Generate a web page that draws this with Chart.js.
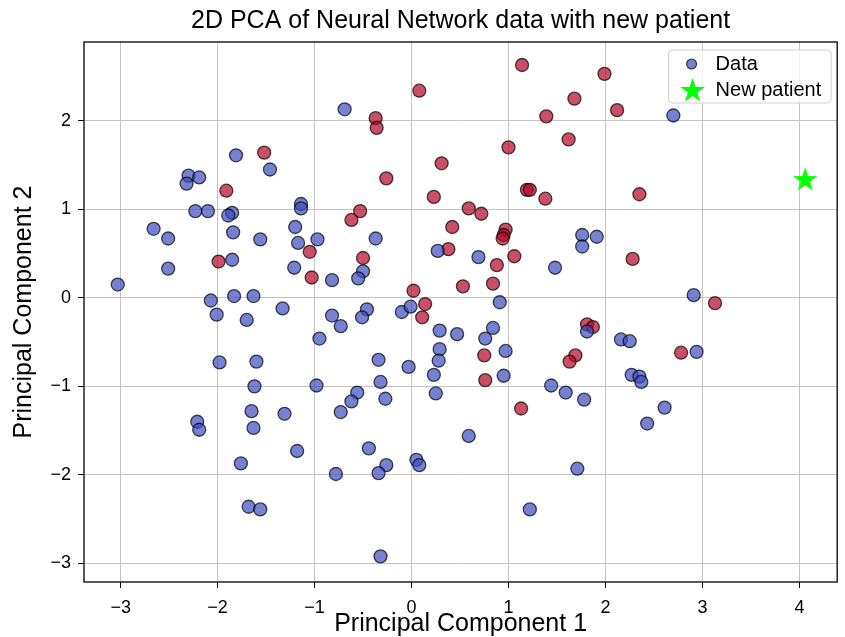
<!DOCTYPE html>
<html>
<head>
<meta charset="utf-8">
<script src="https://cdn.jsdelivr.net/npm/chart.js@4.4.1/dist/chart.umd.min.js"></script>
<style>
  html, body { margin: 0; padding: 0; background: #fff; }
  #wrap { width: 845px; height: 637px; }
</style>
</head>
<body>
<div id="wrap"><canvas id="chart"></canvas></div>
<script>
// class 0 (blue) points
const blueX = [-1.81, -1.46, -2.30, -2.19, -2.32, -2.23, -2.10, -1.85, -1.89, -2.66,
  -2.51, -1.84, -1.56, -2.51, -1.85, -3.03, -2.07, -1.83, -1.63, -2.01,
  -1.70, -1.98, -1.60, -1.62, -2.21, -2.19, -1.65, -1.63, -1.76, -1.68,
  -1.56, -1.20, -1.17, -0.97, -0.37, 0.27, -1.21, -0.50, -0.55, -0.82,
  -1.33, -0.82, -0.46, -0.51, -0.10, -0.01, -0.73, -0.95, 0.29, 0.47,
  0.29, 0.28, -0.34, -0.03, 0.23, -0.32, -0.98, -0.56, 0.25, -0.27,
  -0.62, -1.31, -0.73, -1.18, -0.44, 0.05, 0.08, -0.26, -0.34, -0.78,
  -0.32, 0.69, 1.48, 1.76, 1.91, 1.76, 0.91, 0.84, 0.76, 0.97,
  0.95, 1.81, 2.16, 2.25, 2.27, 2.35, 2.37, 1.44, 1.59, 1.78,
  2.43, 0.59, 1.71, 1.22, 2.61, 2.91, 2.94, -0.69, 2.70, -1.14, -1.14];
const blueY = [1.61, 1.45, 1.38, 1.36, 1.29, 0.98, 0.98, 0.96, 0.93, 0.78,
  0.67, 0.74, 0.66, 0.33, 0.43, 0.15, -0.03, 0.02, 0.02, -0.19,
  -0.25, -0.73, -0.72, -1.00, -1.40, -1.49, -1.28, -1.47, -1.87, -2.36,
  -2.39, 0.80, 0.62, 0.66, 0.67, 0.53, 0.34, 0.30, 0.22, 0.20,
  -0.12, -0.20, -0.13, -0.22, -0.16, -0.10, -0.32, -0.46, -0.37, -0.41,
  -0.58, -0.71, -0.70, -0.78, -0.87, -0.95, -0.99, -1.07, -1.08, -1.14,
  -1.17, -1.31, -1.29, -1.73, -1.70, -1.83, -1.89, -1.89, -1.98, -1.99,
  -2.92, 0.46, 0.34, 0.71, 0.69, 0.58, -0.05, -0.34, -0.46, -0.60,
  -0.88, -0.38, -0.47, -0.49, -0.87, -0.89, -0.95, -0.99, -1.07, -1.15,
  -1.42, -1.56, -1.93, -2.39, -1.24, 0.03, -0.61, 2.13, 2.06, 1.06, 1.01];

// class 1 (red) points
const redX = [-1.52, -1.91, -1.99, 0.08, -0.37, -0.36, 0.31, -0.26, 0.23, -0.53,
  -0.62, 1.14, 1.99, 1.68, 2.12, 1.39, 1.62, 1.00, 1.19, 1.22,
  1.38, 2.35, 0.59, 0.72, 0.42, -1.05, -0.50, 0.38, -1.03, 0.53,
  0.02, 0.14, 0.11, 0.97, 0.95, 0.94, 1.06, 0.88, 0.84, 2.28,
  0.75, 0.76, 1.81, 1.87, 1.69, 1.63, 1.13, 3.13, 2.78];
const redY = [1.64, 1.21, 0.41, 2.34, 2.03, 1.92, 1.52, 1.35, 1.14, 0.98,
  0.88, 2.63, 2.53, 2.25, 2.12, 2.05, 1.79, 1.70, 1.22, 1.22,
  1.12, 1.17, 1.01, 0.95, 0.80, 0.52, 0.45, 0.55, 0.23, 0.13,
  0.08, -0.07, -0.22, 0.77, 0.71, 0.67, 0.47, 0.37, 0.16, 0.44,
  -0.65, -0.93, -0.30, -0.33, -0.65, -0.72, -1.25, -0.06, -0.62];

const patientX = [4.06];
const patientY = [1.33];

const xTicks = [-3, -2, -1, 0, 1, 2, 3, 4];
const yTicks = [-3, -2, -1, 0, 1, 2];

const FONT = "'Liberation Sans', Arial, Helvetica, sans-serif";
const BLUE = "rgba(59, 76, 192, 0.7)";
const RED = "rgba(180, 4, 38, 0.7)";
const EDGE = "rgba(0, 0, 0, 0.7)";
const LIME = "#00ff00";

function toPoints(xs, ys) {
  return xs.map((x, i) => ({ x: x, y: ys[i] }));
}

function starPath(g, cx, cy, r) {
  const inner = r * 0.382;
  g.beginPath();
  for (let i = 0; i < 10; i++) {
    const rad = i % 2 === 0 ? r : inner;
    const a = -Math.PI / 2 + i * Math.PI / 5;
    const px = cx + rad * Math.cos(a);
    const py = cy + rad * Math.sin(a);
    if (i === 0) g.moveTo(px, py); else g.lineTo(px, py);
  }
  g.closePath();
}

function makeStar(r) {
  const c = document.createElement("canvas");
  const s = Math.ceil(r * 2) + 2;
  c.width = s;
  c.height = s;
  const g = c.getContext("2d");
  starPath(g, s / 2, s / 2, r);
  g.fillStyle = LIME;
  g.fill();
  return c;
}

const starImg = makeStar(13);

function fmt(v) {
  return v < 0 ? "\u2212" + Math.abs(v) : String(v);
}

// black box around the axes, like matplotlib spines
const framePlugin = {
  id: "frame",
  afterDraw(chart) {
    const a = chart.chartArea;
    const g = chart.ctx;
    g.save();
    g.strokeStyle = "#222";
    g.lineWidth = 1.5;
    g.strokeRect(a.left, a.top, a.right - a.left, a.bottom - a.top);
    g.restore();
  }
};

// legend inside the plot, upper right
const legendPlugin = {
  id: "innerLegend",
  afterDraw(chart) {
    const a = chart.chartArea;
    const g = chart.ctx;
    g.save();
    g.font = "20px " + FONT;
    const labels = ["Data", "New patient"];
    const w = Math.max(...labels.map(t => g.measureText(t).width));
    const right = a.right - 6;
    const left = right - (47 + w + 10);
    const top = a.top + 8;
    const h = 53;
    g.beginPath();
    g.roundRect(left, top, right - left, h, 4);
    g.fillStyle = "rgba(255,255,255,0.8)";
    g.fill();
    g.strokeStyle = "#d0d0d0";
    g.lineWidth = 1;
    g.stroke();

    // circle marker
    g.beginPath();
    g.arc(left + 23, top + 14, 5, 0, Math.PI * 2);
    g.fillStyle = BLUE;
    g.fill();
    g.strokeStyle = EDGE;
    g.lineWidth = 1.2;
    g.stroke();

    // star marker
    starPath(g, left + 24, top + 41, 13);
    g.fillStyle = LIME;
    g.fill();

    g.fillStyle = "#000";
    g.textBaseline = "middle";
    g.textAlign = "left";
    g.fillText(labels[0], left + 47, top + 14);
    g.fillText(labels[1], left + 47, top + 40);
    g.restore();
  }
};

new Chart(document.getElementById("chart"), {
  type: "scatter",
  data: {
    datasets: [
      {
        label: "Data",
        data: toPoints(blueX, blueY),
        backgroundColor: BLUE,
        borderColor: EDGE,
        borderWidth: 1.3,
        pointRadius: 6.5,
      },
      {
        label: "Data",
        data: toPoints(redX, redY),
        backgroundColor: RED,
        borderColor: EDGE,
        borderWidth: 1.3,
        pointRadius: 6.5,
      },
      {
        label: "New patient",
        data: toPoints(patientX, patientY),
        pointStyle: starImg,
        backgroundColor: LIME,
        borderWidth: 0,
      },
    ],
  },
  options: {
    responsive: true,
    maintainAspectRatio: false,
    animation: false,
    events: [],
    layout: { padding: { left: 0, right: 2, top: 0, bottom: 0 } },
    plugins: {
      legend: { display: false },
      tooltip: { enabled: false },
      title: {
        display: true,
        text: "2D PCA of Neural Network data with new patient",
        color: "#000",
        font: { family: FONT, size: 25, weight: "normal", lineHeight: 1.0 },
        padding: { top: 9, bottom: 8 },
        fullSize: false,
      },
    },
    scales: {
      x: {
        type: "linear",
        min: -3.378,
        max: 4.39,
        afterBuildTicks: (s) => { s.ticks = xTicks.map(v => ({ value: v })); },
        afterFit: (s) => { s.height = 55; },
        ticks: {
          color: "#000",
          font: { family: FONT, size: 18 },
          padding: 9,
          maxRotation: 0,
          callback: (v) => fmt(v),
        },
        grid: { color: "#c4c4c4", lineWidth: 1, tickColor: "#000", tickLength: 6 },
        border: { display: false },
        title: {
          display: true,
          text: "Principal Component 1",
          color: "#000",
          font: { family: FONT, size: 25, lineHeight: 1.0 },
          padding: { top: 0, bottom: 0 },
        },
      },
      y: {
        type: "linear",
        min: -3.21,
        max: 2.89,
        afterBuildTicks: (s) => { s.ticks = yTicks.map(v => ({ value: v })); },
        afterFit: (s) => { s.width = 84; },
        ticks: {
          color: "#000",
          font: { family: FONT, size: 18 },
          padding: 7,
          callback: (v) => fmt(v),
        },
        grid: { color: "#c4c4c4", lineWidth: 1, tickColor: "#000", tickLength: 6 },
        border: { display: false },
        title: {
          display: true,
          text: "Principal Component 2",
          color: "#000",
          font: { family: FONT, size: 25, lineHeight: 1.0 },
          padding: { top: 12, bottom: 0 },
        },
      },
    },
  },
  plugins: [framePlugin, legendPlugin],
});
</script>
</body>
</html>
